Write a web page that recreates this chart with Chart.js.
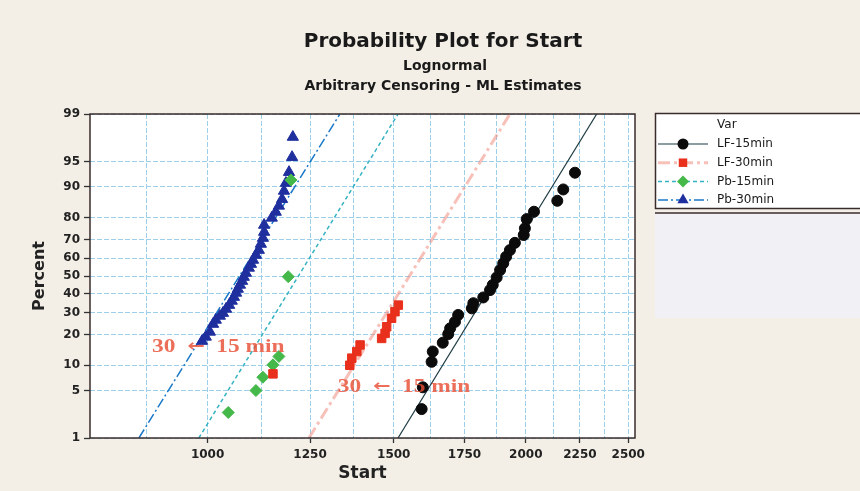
<!DOCTYPE html>
<html>
<head>
<meta charset="utf-8">
<title>Probability Plot for Start</title>
<script src="https://cdn.jsdelivr.net/npm/chart.js@4.4.1/dist/chart.umd.min.js"></script>
<style>
  html, body { margin: 0; padding: 0; background: #f3efe6; }
  #wrap { position: relative; width: 860px; height: 491px; }
</style>
</head>
<body>
<div id="wrap"><canvas id="probPlot" width="860" height="491"></canvas></div>
<script>
// axis ticks
const percentTicks = [1, 5, 10, 20, 30, 40, 50, 60, 70, 80, 90, 95, 99];
const startGrid = [875, 1000, 1125, 1250, 1375, 1500, 1625, 1750, 1875, 2000, 2125, 2250, 2375, 2500];
const startLabels = [1000, 1250, 1500, 1750, 2000, 2250, 2500];
const startMin = 774;
const startMax = 2537;

const seriesNames = ["LF-15min", "LF-30min", "Pb-15min", "Pb-30min"];

// observed points (Start value, percent)
const lf15Start = [1594, 1598, 1629, 1633, 1669, 1689, 1696, 1714, 1726, 1778, 1784, 1823, 1850, 1861, 1877, 1891, 1904, 1916, 1932, 1953, 1991, 1996, 2004, 2036, 2142, 2170, 2226];
const lf15Pct = [2.8, 5.5, 10.9, 13.9, 16.9, 20.2, 22.6, 25.5, 28.8, 32.1, 34.8, 37.9, 42.0, 44.9, 49.2, 53.4, 57.2, 60.9, 64.5, 68.3, 72.2, 75.3, 79.3, 82.2, 86.0, 89.3, 93.1];

const lf30Start = [1153, 1363, 1369, 1384, 1394, 1461, 1472, 1477, 1493, 1504, 1515];
const lf30Pct = [8.0, 10.0, 11.9, 13.9, 16.1, 18.5, 20.5, 23.3, 27.2, 30.4, 33.8];

const pb15Start = [1046, 1111, 1128, 1153, 1168, 1192, 1199];
const pb15Pct = [2.5, 5.0, 7.3, 10.1, 12.4, 49.6, 91.6];

const pb30Start = [988, 996, 1005, 1012, 1018, 1027, 1034, 1041, 1048, 1054, 1059, 1064, 1068, 1073, 1078, 1082, 1087, 1094, 1099, 1104, 1111, 1118, 1123, 1128, 1131, 1131, 1150, 1160, 1168, 1176, 1181, 1186, 1194, 1202, 1204];
const pb30Pct = [17.5, 19.1, 21.1, 24.5, 26.4, 28.3, 29.7, 31.8, 33.8, 36.0, 38.1, 40.4, 42.6, 44.9, 47.1, 49.4, 51.7, 54.6, 56.8, 59.1, 61.8, 64.5, 67.7, 70.7, 73.6, 76.8, 79.8, 82.1, 84.3, 86.5, 88.9, 90.9, 93.2, 95.6, 97.7];

// fitted lognormal lines, Start value at 1% and 99%
const fitPct = [1, 99];
const lf15Fit = [1514, 2334];
const lf30Fit = [1247, 1932];
const pb15Fit = [981, 1514];
const pb30Fit = [861, 1334];

// hand-written notes on the figure
const noteText = ["30  \u2190  15 min", "30  \u2190  15 min"];
const noteStart = [886, 1328];
const notePct = [15.4, 5.5];

const seriesStyles = [
  { color: "#0b0b0b", pointStyle: "circle", radius: 5.5, line: "#1d3a42", lineWidth: 1.2, dash: [] },
  { color: "#e8301c", pointStyle: "rect", radius: 6, line: "rgba(240,140,128,0.55)", lineWidth: 3, dash: [12, 4, 3, 4] },
  { color: "#45b84a", pointStyle: "rectRot", radius: 6, line: "#36b3c2", lineWidth: 1.5, dash: [4, 3] },
  { color: "#1f2f9e", pointStyle: "triangle", radius: 6.5, line: "#1a78c8", lineWidth: 1.5, dash: [10, 3, 2, 3] }
];

// inverse normal CDF (Acklam), used for the probability axis
function probit(p) {
  const a = [-39.69683028665376, 220.9460984245205, -275.9285104469687, 138.3577518672690, -30.66479806614716, 2.506628277459239];
  const b = [-54.47609879822406, 161.5858368580409, -155.6989798598866, 66.80131188771972, -13.28068155288572];
  const c = [-0.007784894002430293, -0.3223964580411365, -2.400758277161838, -2.549732539343734, 4.374664141464968, 2.938163982698783];
  const d = [0.007784695709041462, 0.3224671290700398, 2.445134137142996, 3.754408661907416];
  const plow = 0.02425;
  if (p < plow) {
    const q = Math.sqrt(-2 * Math.log(p));
    return (((((c[0] * q + c[1]) * q + c[2]) * q + c[3]) * q + c[4]) * q + c[5]) / ((((d[0] * q + d[1]) * q + d[2]) * q + d[3]) * q + 1);
  }
  if (p > 1 - plow) {
    const q = Math.sqrt(-2 * Math.log(1 - p));
    return -(((((c[0] * q + c[1]) * q + c[2]) * q + c[3]) * q + c[4]) * q + c[5]) / ((((d[0] * q + d[1]) * q + d[2]) * q + d[3]) * q + 1);
  }
  const q = p - 0.5;
  const r = q * q;
  return (((((a[0] * r + a[1]) * r + a[2]) * r + a[3]) * r + a[4]) * r + a[5]) * q / (((((b[0] * r + b[1]) * r + b[2]) * r + b[3]) * r + b[4]) * r + 1);
}

function toPoints(starts, pcts) {
  return starts.map((v, i) => ({ x: v, y: probit(pcts[i] / 100) }));
}

function drawMarker(ctx, style, x, y) {
  const r = style.radius;
  ctx.beginPath();
  if (style.pointStyle === "circle") {
    ctx.arc(x, y, r, 0, Math.PI * 2);
  } else if (style.pointStyle === "rect") {
    const s = r * Math.SQRT1_2;
    ctx.rect(x - s, y - s, 2 * s, 2 * s);
  } else if (style.pointStyle === "rectRot") {
    ctx.moveTo(x, y - r); ctx.lineTo(x + r, y); ctx.lineTo(x, y + r); ctx.lineTo(x - r, y);
    ctx.closePath();
  } else {
    ctx.moveTo(x, y - r); ctx.lineTo(x + r * 0.866, y + r * 0.5); ctx.lineTo(x - r * 0.866, y + r * 0.5);
    ctx.closePath();
  }
  ctx.fillStyle = style.color;
  ctx.fill();
}

// note text: serif words, arrow taken from a font with a full-size glyph
function drawNote(ctx, text, x, y) {
  const parts = text.split("\u2190");
  const serif = 'bold 18px "Liberation Serif"';
  const arrowFont = 'bold 16px "DejaVu Sans"';
  ctx.save();
  ctx.translate(x, y);
  ctx.scale(1.3, 1);
  let cx = 0;
  ctx.font = serif;
  ctx.fillText(parts[0], cx, 0);
  cx += ctx.measureText(parts[0]).width;
  if (parts.length > 1) {
    ctx.font = arrowFont;
    ctx.fillText("\u2190", cx, 0);
    cx += ctx.measureText("\u2190").width;
    ctx.font = serif;
    ctx.fillText(parts[1], cx, 0);
  }
  ctx.restore();
}

const pointSets = [[lf15Start, lf15Pct], [lf30Start, lf30Pct], [pb15Start, pb15Pct], [pb30Start, pb30Pct]];
const fitSets = [lf15Fit, lf30Fit, pb15Fit, pb30Fit];

const datasets = [];
pointSets.forEach(([starts, pcts], i) => {
  const st = seriesStyles[i];
  datasets.push({
    label: seriesNames[i],
    data: toPoints(starts, pcts),
    pointStyle: st.pointStyle,
    pointRadius: st.radius,
    pointBackgroundColor: st.color,
    pointBorderColor: st.color,
    pointBorderWidth: 1,
    showLine: false
  });
});
fitSets.forEach((fit, i) => {
  const st = seriesStyles[i];
  datasets.push({
    label: seriesNames[i] + " fit",
    data: toPoints(fit, fitPct),
    showLine: true,
    pointRadius: 0,
    borderColor: st.line,
    borderWidth: st.lineWidth,
    borderDash: st.dash,
    fill: false
  });
});

const gridBlue = "#9ccfea";
const darkInk = "#222222";
const tickFont = { family: "DejaVu Sans", size: 12, weight: "bold" };

const decor = {
  id: "decor",
  beforeDraw(chart) {
    const { ctx, chartArea: a } = chart;
    ctx.save();
    ctx.fillStyle = "#ffffff";
    ctx.fillRect(a.left, a.top, a.right - a.left, a.bottom - a.top);
    ctx.fillRect(655, 113, 210, 95);
    ctx.fillStyle = "#f1f1f5";
    ctx.fillRect(655, 213, 210, 105);
    ctx.restore();
  },
  afterDatasetsDraw(chart) {
    const { ctx, scales } = chart;
    ctx.save();
    ctx.fillStyle = "rgba(232,78,52,0.82)";
    ctx.textBaseline = "middle";
    noteText.forEach((t, i) => {
      const x = scales.x.getPixelForValue(noteStart[i]);
      const y = scales.y.getPixelForValue(probit(notePct[i] / 100));
      drawNote(ctx, t, x, y);
    });
    ctx.restore();
  },
  afterDraw(chart) {
    const { ctx, chartArea: a } = chart;
    ctx.save();
    // plot frame
    ctx.strokeStyle = "#3a2c2c";
    ctx.lineWidth = 1.5;
    ctx.strokeRect(a.left, a.top, a.right - a.left, a.bottom - a.top);

    // header
    ctx.fillStyle = "#1a1a1a";
    ctx.textAlign = "center";
    ctx.textBaseline = "alphabetic";
    ctx.font = 'bold 20px "DejaVu Sans"';
    ctx.fillText("Probability Plot for Start", 443, 47);
    ctx.font = 'bold 14px "DejaVu Sans"';
    ctx.fillText("Lognormal", 445, 70);
    ctx.fillText("Arbitrary Censoring - ML Estimates", 443, 90);

    // legend
    ctx.strokeStyle = "#3a2c2c";
    ctx.lineWidth = 1.5;
    ctx.strokeRect(655.5, 113.5, 220, 95);
    ctx.beginPath();
    ctx.moveTo(655, 213);
    ctx.lineTo(860, 213);
    ctx.stroke();
    ctx.textAlign = "left";
    ctx.textBaseline = "middle";
    ctx.font = '12px "DejaVu Sans"';
    ctx.fillStyle = "#1a1a1a";
    ctx.fillText("Var", 717, 125);
    seriesStyles.forEach((st, i) => {
      const y = 144 + i * 18.7;
      ctx.save();
      ctx.strokeStyle = st.line;
      ctx.lineWidth = st.lineWidth;
      ctx.setLineDash(st.dash);
      ctx.beginPath();
      ctx.moveTo(658, y);
      ctx.lineTo(708, y);
      ctx.stroke();
      ctx.restore();
      drawMarker(ctx, st, 683, y);
      ctx.fillStyle = "#1a1a1a";
      ctx.fillText(seriesNames[i], 717, y);
    });
    ctx.restore();
  }
};

new Chart(document.getElementById("probPlot"), {
  type: "scatter",
  data: { datasets },
  options: {
    responsive: false,
    animation: false,
    layout: { padding: { left: 0, top: 114, right: 225, bottom: 0 } },
    plugins: {
      legend: { display: false },
      tooltip: { enabled: false },
      title: { display: false }
    },
    scales: {
      x: {
        type: "logarithmic",
        min: startMin,
        max: startMax,
        afterBuildTicks: (s) => { s.ticks = startGrid.map((v) => ({ value: v })); },
        afterFit: (s) => { s.height = 53; },
        ticks: {
          autoSkip: false,
          maxRotation: 0,
          padding: 5,
          color: darkInk,
          font: tickFont,
          callback: (v) => (startLabels.includes(v) ? String(v) : "")
        },
        grid: {
          color: gridBlue,
          lineWidth: 1,
          tickLength: 5,
          tickWidth: 1.3,
          tickColor: (c) => (c.tick && startLabels.includes(c.tick.value) ? "#333333" : "rgba(0,0,0,0)")
        },
        border: { display: false, dash: [5, 2] },
        title: {
          display: true,
          text: "Start",
          color: darkInk,
          font: { family: "DejaVu Sans", size: 17, weight: "bold" },
          padding: { top: 0, bottom: 7 }
        }
      },
      y: {
        type: "linear",
        min: probit(0.01),
        max: probit(0.99),
        afterBuildTicks: (s) => { s.ticks = percentTicks.map((p) => ({ value: probit(p / 100) })); },
        afterFit: (s) => { s.width = 90; },
        ticks: {
          autoSkip: false,
          padding: 4,
          color: darkInk,
          font: tickFont,
          callback: (v, i) => String(percentTicks[i])
        },
        grid: {
          color: gridBlue,
          lineWidth: 1,
          tickLength: 6,
          tickWidth: 1.3,
          tickColor: "#333333"
        },
        border: { display: false, dash: [5, 2] },
        title: {
          display: true,
          text: "Percent",
          color: darkInk,
          font: { family: "DejaVu Sans", size: 16, weight: "bold" },
          padding: { top: 30, bottom: 0 }
        }
      }
    }
  },
  plugins: [decor]
});
</script>
</body>
</html>
